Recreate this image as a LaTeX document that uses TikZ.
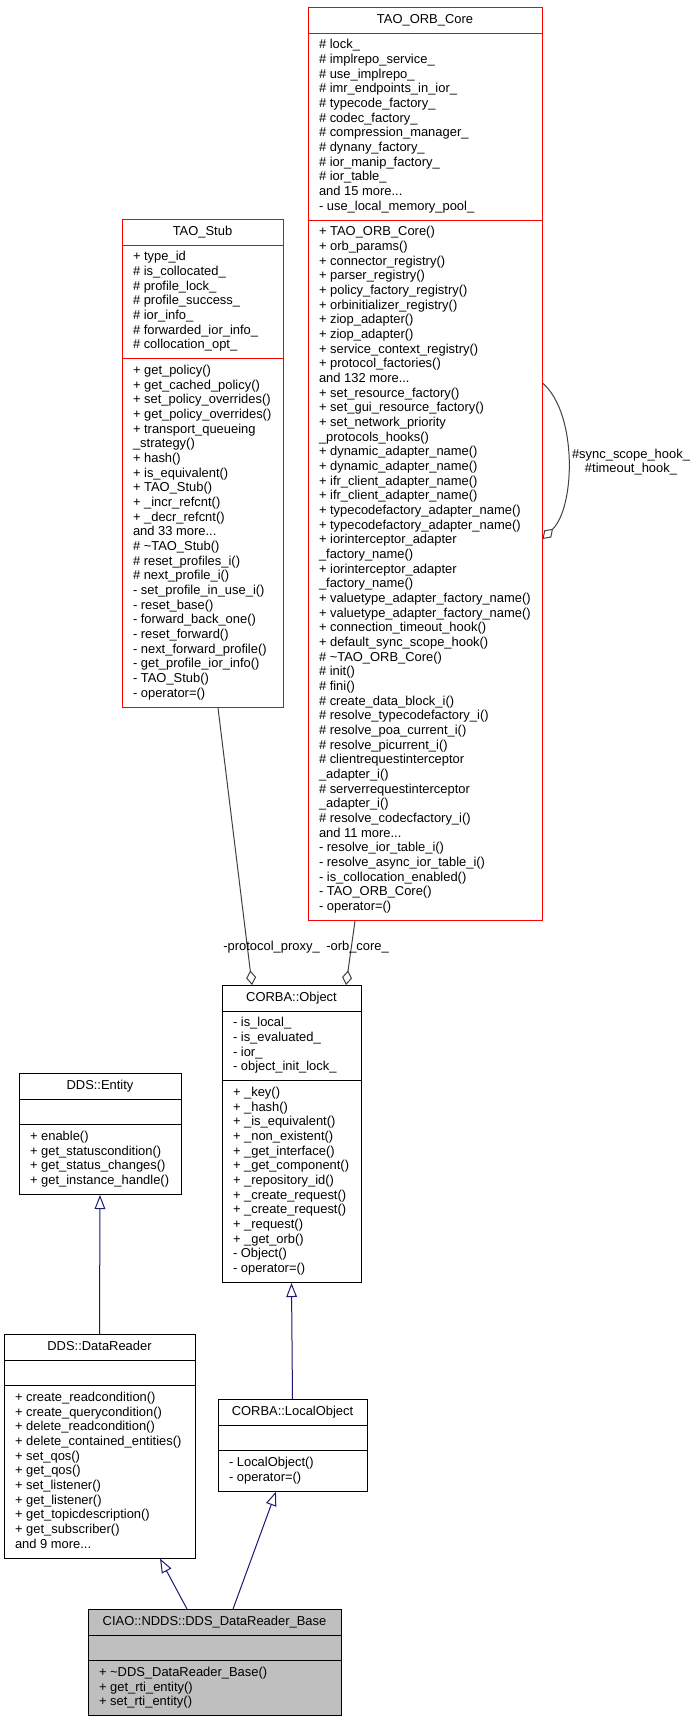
\documentclass[tikz,border=0pt]{standalone}
\usepackage{fontspec}
\setmainfont{Liberation Sans}
\usetikzlibrary{shapes.multipart, arrows.meta}
\definecolor{inhblue}{HTML}{191970}
\definecolor{usegray}{HTML}{404040}
\definecolor{curgray}{HTML}{BFBFBF}

\begin{document}
\begin{tikzpicture}[
  x=0.75pt, y=-0.75pt,
  font=\fontsize{9.7}{11}\selectfont,
  cls/.style={draw=black, line width=0.75pt, fill=white,
              rectangle split, rectangle split parts=3,
              rectangle split part align={center,left,left},
              rectangle split empty part height=7.7pt,
              rectangle split empty part depth=3.3pt,
              align=left, inner xsep=8.25pt, inner ysep=3.75pt, anchor=north},
  trunc/.style={cls, draw=red},
  cur/.style={cls, fill=curgray},
  inh/.style={draw=inhblue, line width=0.75pt,
              -{Triangle[open, length=10.5pt, width=8pt]}},
  use/.style={draw=usegray, line width=0.75pt,
              -{Diamond[open, length=11pt, width=7.5pt]}},
  lbl/.style={inner sep=0pt}
]
  \useasboundingbox (0,0) rectangle (696,1720);

  % classes
  \node[trunc, minimum width=175.5pt] (orbcore) at (425,7) {\strut TAO\_ORB\_Core
    \nodepart{two}\strut\# lock\_\\
    \# implrepo\_service\_\\
    \# use\_implrepo\_\\
    \# imr\_endpoints\_in\_ior\_\\
    \# typecode\_factory\_\\
    \# codec\_factory\_\\
    \# compression\_manager\_\\
    \# dynany\_factory\_\\
    \# ior\_manip\_factory\_\\
    \# ior\_table\_\\
    and 15 more...\\
    \strut- use\_local\_memory\_pool\_
    \nodepart{three}\strut+ TAO\_ORB\_Core()\\
    + orb\_params()\\
    + connector\_registry()\\
    + parser\_registry()\\
    + policy\_factory\_registry()\\
    + orbinitializer\_registry()\\
    + ziop\_adapter()\\
    + ziop\_adapter()\\
    + service\_context\_registry()\\
    + protocol\_factories()\\
    and 132 more...\\
    + set\_resource\_factory()\\
    + set\_gui\_resource\_factory()\\
    + set\_network\_priority\\
    \_protocols\_hooks()\\
    + dynamic\_adapter\_name()\\
    + dynamic\_adapter\_name()\\
    + ifr\_client\_adapter\_name()\\
    + ifr\_client\_adapter\_name()\\
    + typecodefactory\_adapter\_name()\\
    + typecodefactory\_adapter\_name()\\
    + iorinterceptor\_adapter\\
    \_factory\_name()\\
    + iorinterceptor\_adapter\\
    \_factory\_name()\\
    + valuetype\_adapter\_factory\_name()\\
    + valuetype\_adapter\_factory\_name()\\
    + connection\_timeout\_hook()\\
    + default\_sync\_scope\_hook()\\
    \# \textasciitilde TAO\_ORB\_Core()\\
    \# init()\\
    \# fini()\\
    \# create\_data\_block\_i()\\
    \# resolve\_typecodefactory\_i()\\
    \# resolve\_poa\_current\_i()\\
    \# resolve\_picurrent\_i()\\
    \# clientrequestinterceptor\\
    \_adapter\_i()\\
    \# serverrequestinterceptor\\
    \_adapter\_i()\\
    \# resolve\_codecfactory\_i()\\
    and 11 more...\\
    - resolve\_ior\_table\_i()\\
    - resolve\_async\_ior\_table\_i()\\
    - is\_collocation\_enabled()\\
    - TAO\_ORB\_Core()\\
    \strut- operator=()};

  \node[trunc, minimum width=120.75pt] (stub) at (202.5,219) {\strut TAO\_Stub
    \nodepart{two}\strut+ type\_id\\
    \# is\_collocated\_\\
    \# profile\_lock\_\\
    \# profile\_success\_\\
    \# ior\_info\_\\
    \# forwarded\_ior\_info\_\\
    \strut\# collocation\_opt\_
    \nodepart{three}\strut+ get\_policy()\\
    + get\_cached\_policy()\\
    + set\_policy\_overrides()\\
    + get\_policy\_overrides()\\
    + transport\_queueing\\
    \_strategy()\\
    + hash()\\
    + is\_equivalent()\\
    + TAO\_Stub()\\
    + \_incr\_refcnt()\\
    + \_decr\_refcnt()\\
    and 33 more...\\
    \# \textasciitilde TAO\_Stub()\\
    \# reset\_profiles\_i()\\
    \# next\_profile\_i()\\
    - set\_profile\_in\_use\_i()\\
    - reset\_base()\\
    - forward\_back\_one()\\
    - reset\_forward()\\
    - next\_forward\_profile()\\
    - get\_profile\_ior\_info()\\
    - TAO\_Stub()\\
    \strut- operator=()};

  \node[cls, minimum width=104.25pt] (object) at (291.5,985) {\strut CORBA::Object
    \nodepart{two}\strut- is\_local\_\\
    - is\_evaluated\_\\
    - ior\_\\
    \strut- object\_init\_lock\_
    \nodepart{three}\strut+ \_key()\\
    + \_hash()\\
    + \_is\_equivalent()\\
    + \_non\_existent()\\
    + \_get\_interface()\\
    + \_get\_component()\\
    + \_repository\_id()\\
    + \_create\_request()\\
    + \_create\_request()\\
    + \_request()\\
    + \_get\_orb()\\
    - Object()\\
    \strut- operator=()};

  \node[cls, minimum width=121.5pt] (entity) at (100,1073) {\strut DDS::Entity
    \nodepart{two}
    \nodepart{three}\strut+ enable()\\
    + get\_statuscondition()\\
    + get\_status\_changes()\\
    \strut+ get\_instance\_handle()};

  \node[cls, minimum width=143.25pt] (reader) at (99.5,1334) {\strut DDS::DataReader
    \nodepart{two}
    \nodepart{three}\strut+ create\_readcondition()\\
    + create\_querycondition()\\
    + delete\_readcondition()\\
    + delete\_contained\_entities()\\
    + set\_qos()\\
    + get\_qos()\\
    + set\_listener()\\
    + get\_listener()\\
    + get\_topicdescription()\\
    + get\_subscriber()\\
    \strut and 9 more...};

  \node[cls, minimum width=111.75pt] (localobj) at (292.5,1399) {\strut CORBA::LocalObject
    \nodepart{two}
    \nodepart{three}\strut- LocalObject()\\
    \strut- operator=()};

  \node[cur, minimum width=189.75pt] (ciao) at (214.5,1609) {\strut CIAO::NDDS::DDS\_DataReader\_Base
    \nodepart{two}
    \nodepart{three}\strut+ \textasciitilde DDS\_DataReader\_Base()\\
    + get\_rti\_entity()\\
    \strut+ set\_rti\_entity()};

  % usage edges
  \draw[use] ([xshift=11.6pt]stub.south) -- ([xshift=-29.6pt]object.north);
  \draw[use] ([xshift=-52.5pt]orbcore.south) -- ([xshift=40.9pt]object.north);
  \draw[use] ([yshift=-282pt]orbcore.north east)
    .. controls +(35,30) and +(33,-32) .. ([yshift=-399pt]orbcore.north east);
  \node[lbl, anchor=base east] (proxylbl) at (320,950) {-protocol\_proxy\_};
  \node[lbl, anchor=base west] (corelbl) at (326,950) {-orb\_core\_};
  \node[lbl, align=center, font=\fontsize{9.7}{9}\selectfont] (hooklbl) at (631,462)
    {\#sync\_scope\_hook\_\\\#timeout\_hook\_};

  % inheritance edges
  \draw[inh] (localobj.north) -- (object.south);
  \draw[inh] (reader.north) -- (entity.south);
  \draw[inh] ([xshift=-20.6pt]ciao.north) -- ([xshift=45.4pt]reader.south);
  \draw[inh] ([xshift=13.9pt]ciao.north) -- ([xshift=-12.4pt]localobj.south);
\end{tikzpicture}
\end{document}
